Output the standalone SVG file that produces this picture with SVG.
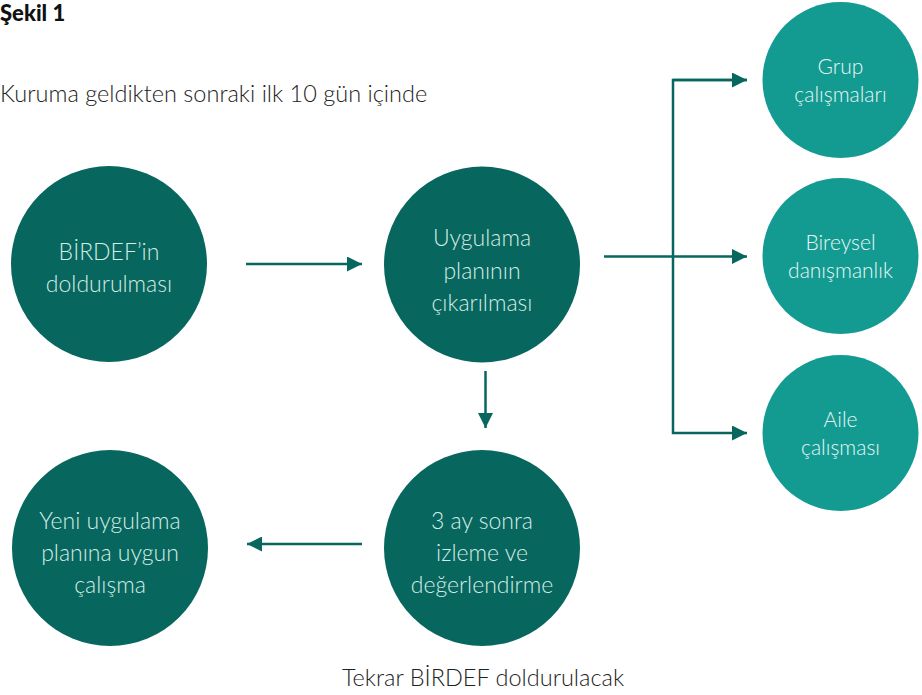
<svg xmlns="http://www.w3.org/2000/svg" width="922" height="695" viewBox="0 0 922 695">
<defs>
<style>
.dark{fill:#07665D}
.light{fill:#139B92}
.t{font-family:Lato,"Open Sans","Liberation Sans",sans-serif;font-weight:300;text-anchor:middle}
.td{fill:#D4ECE6;font-size:23px}
.tl{fill:#E8F6F3;font-size:21px}
.plain{font-family:Lato,"Open Sans","Liberation Sans",sans-serif;font-weight:300;fill:#222;font-size:23.5px}
.conn{fill:none;stroke:#07665D;stroke-width:2.5}
</style>
<marker id="ah" viewBox="0 0 10 10" refX="10" refY="5" markerWidth="19" markerHeight="15" markerUnits="userSpaceOnUse" orient="auto">
<path d="M0,0 L10,5 L0,10 z" fill="#07665D"/>
</marker>
</defs>
<rect width="922" height="695" fill="#fff"/>
<text x="0" y="21" font-family="Lato,'Open Sans','Liberation Sans',sans-serif" font-weight="900" font-size="22" fill="#111">Şekil 1</text>
<text class="plain" x="0" y="102">Kuruma geldikten sonraki ilk 10 gün içinde</text>
<text class="plain" x="483" y="686" text-anchor="middle">Tekrar BİRDEF doldurulacak</text>

<g id="connectors">
<line class="conn" x1="246" y1="264" x2="362" y2="264" marker-end="url(#ah)"/>
<line class="conn" x1="485.5" y1="371" x2="485.5" y2="428" marker-end="url(#ah)"/>
<line class="conn" x1="362" y1="544" x2="247" y2="544" marker-end="url(#ah)"/>
<line class="conn" x1="604" y1="256.5" x2="747" y2="256.5" marker-end="url(#ah)"/>
<path class="conn" d="M747,80 H673 V433 H747" marker-end="url(#ah)"/>
<line class="conn" x1="673" y1="80" x2="747" y2="80" marker-end="url(#ah)"/>
</g>

<g id="birdef">
<circle class="dark" cx="109" cy="264" r="98"/>
<text class="t td"><tspan x="109" y="260">BİRDEF’in</tspan><tspan x="109" y="292">doldurulması</tspan></text>
</g>
<g id="uygulama">
<circle class="dark" cx="482" cy="264.5" r="98"/>
<text class="t td"><tspan x="482" y="246">Uygulama</tspan><tspan x="482" y="279">planının</tspan><tspan x="482" y="311">çıkarılması</tspan></text>
</g>
<g id="izleme">
<circle class="dark" cx="482" cy="548" r="98"/>
<text class="t td"><tspan x="482" y="529">3 ay sonra</tspan><tspan x="482" y="561">izleme ve</tspan><tspan x="482" y="593">değerlendirme</tspan></text>
</g>
<g id="yeni">
<circle class="dark" cx="110" cy="548" r="98"/>
<text class="t td"><tspan x="110" y="529">Yeni uygulama</tspan><tspan x="110" y="561">planına uygun</tspan><tspan x="110" y="593">çalışma</tspan></text>
</g>
<g id="grup">
<circle class="light" cx="840.5" cy="80" r="78"/>
<text class="t tl"><tspan x="840.5" y="74">Grup</tspan><tspan x="840.5" y="102">çalışmaları</tspan></text>
</g>
<g id="bireysel">
<circle class="light" cx="840.5" cy="256" r="78"/>
<text class="t tl"><tspan x="840.5" y="250">Bireysel</tspan><tspan x="840.5" y="278">danışmanlık</tspan></text>
</g>
<g id="aile">
<circle class="light" cx="840.5" cy="433" r="78"/>
<text class="t tl"><tspan x="840.5" y="427">Aile</tspan><tspan x="840.5" y="455">çalışması</tspan></text>
</g>
</svg>
